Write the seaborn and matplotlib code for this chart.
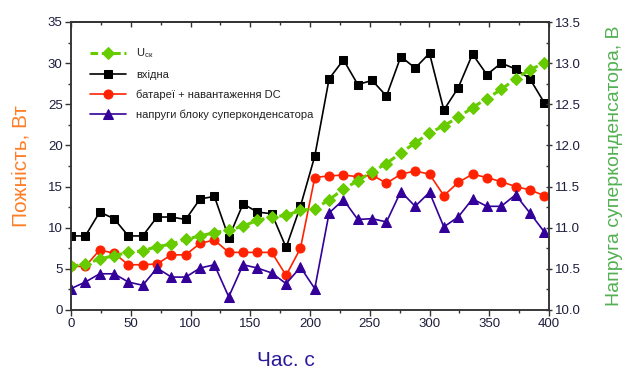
import matplotlib
matplotlib.use("Agg")
import matplotlib.pyplot as plt
from matplotlib.ticker import MultipleLocator, NullFormatter, FormatStrFormatter
import seaborn as sns
import pandas as pd

# Time stamps, s
time_s = [0, 12, 24, 36, 48, 60, 72, 84, 96, 108, 120, 132, 144, 156, 168, 180, 192,
          204, 216, 228, 240, 252, 264, 276, 288, 300, 312, 324, 336, 348, 360, 372, 384, 396]

# Power, W
p_input = [9.0, 9.0, 11.9, 11.1, 9.0, 9.0, 11.3, 11.3, 11.0, 13.5, 13.8, 8.8, 12.9, 11.9, 11.7, 7.6, 12.6,
           18.7, 28.1, 30.4, 27.4, 27.9, 26.0, 30.8, 29.4, 31.2, 24.3, 27.0, 31.1, 28.6, 30.0, 29.3, 28.1, 25.2]
p_battery_dc = [5.3, 5.3, 7.3, 6.9, 5.5, 5.5, 5.6, 6.7, 6.7, 8.1, 8.5, 7.0, 7.0, 7.0, 7.0, 4.2, 7.5,
                16.1, 16.3, 16.4, 16.2, 16.4, 15.4, 16.5, 16.9, 16.5, 13.9, 15.5, 16.5, 16.1, 15.6, 15.0, 14.6, 13.9]
p_supercap = [2.6, 3.4, 4.4, 4.4, 3.4, 3.0, 5.1, 4.0, 4.0, 5.1, 5.5, 1.6, 5.5, 5.1, 4.5, 3.2, 5.2,
              2.6, 11.8, 13.4, 11.0, 11.1, 10.7, 14.4, 12.6, 14.3, 10.1, 11.3, 13.5, 12.6, 12.6, 14.0, 11.8, 9.5]

# Supercapacitor voltage, V
u_sc = [10.53, 10.56, 10.62, 10.66, 10.70, 10.72, 10.77, 10.80, 10.86, 10.90, 10.94, 10.97, 11.02, 11.09, 11.13, 11.15, 11.21,
        11.23, 11.34, 11.47, 11.57, 11.68, 11.78, 11.91, 12.03, 12.15, 12.24, 12.34, 12.46, 12.57, 12.68, 12.81, 12.92, 13.00]

labels = ["вхідна", "батареї + навантаження DC", "напруги блоку суперконденсатора"]
u_label = r"U$\mathregular{_{ск}}$"

sns.set_style("ticks")
plt.rcParams["font.family"] = ["Liberation Sans", "DejaVu Sans"]
plt.rcParams["mathtext.fontset"] = "custom"
plt.rcParams["mathtext.rm"] = "Liberation Sans"

df = pd.DataFrame({"t": time_s, "input": p_input, "bat": p_battery_dc, "sc": p_supercap, "u": u_sc})

fig = plt.figure(figsize=(6.26, 3.69), dpi=100)
ax = fig.add_axes([71 / 626, 1 - 310 / 369, 478 / 626, 288 / 369])
ax2 = ax.twinx()

c_black, c_red, c_blue, c_green = "#000000", "#ff2200", "#330099", "#66cc00"

sns.lineplot(data=df, x="t", y="input", ax=ax, color=c_black, marker="s", markersize=6,
             markeredgecolor=c_black, linewidth=1.2, label=labels[0], legend=False)
sns.lineplot(data=df, x="t", y="bat", ax=ax, color=c_red, marker="o", markersize=6.5,
             markeredgecolor=c_red, linewidth=1.2, label=labels[1], legend=False)
sns.lineplot(data=df, x="t", y="sc", ax=ax, color=c_blue, marker="^", markersize=7,
             markeredgecolor=c_blue, linewidth=1.2, label=labels[2], legend=False)
sns.lineplot(data=df, x="t", y="u", ax=ax2, color=c_green, marker="D", markersize=6.5,
             markeredgecolor=c_green, linewidth=2.2, linestyle=(0, (2.5, 1.2)), label=u_label, legend=False)

ax.set_xlim(0, 400)
ax.set_ylim(0, 35)
ax2.set_ylim(10.0, 13.5)

ax.xaxis.set_major_locator(MultipleLocator(50))
ax.xaxis.set_minor_locator(MultipleLocator(25))
ax.yaxis.set_major_locator(MultipleLocator(5))
ax.yaxis.set_minor_locator(MultipleLocator(2.5))
ax2.yaxis.set_major_locator(MultipleLocator(0.5))
ax2.yaxis.set_minor_locator(MultipleLocator(0.25))
ax2.yaxis.set_major_formatter(FormatStrFormatter("%.1f"))

tick_color = "#1c1c3c"
spine_color = "#333333"
for a in (ax, ax2):
    for s in a.spines.values():
        s.set_visible(True)
        s.set_color(spine_color)
        s.set_linewidth(1.1)

ax.tick_params(axis="both", which="major", labelsize=9.5, labelcolor=tick_color, color=spine_color,
               length=4, width=1, direction="out", top=False, pad=2)
ax.tick_params(axis="both", which="minor", color=spine_color, length=2.5, width=1, direction="out", top=False)
ax2.tick_params(axis="y", which="major", labelsize=9.5, labelcolor=tick_color, color=spine_color,
                length=5, width=1, direction="inout", pad=2)
ax2.tick_params(axis="y", which="minor", color=spine_color, length=2.5, width=1, direction="in")

# Top axis: inward ticks without labels
top = ax.secondary_xaxis("top")
top.xaxis.set_major_locator(MultipleLocator(50))
top.xaxis.set_minor_locator(MultipleLocator(25))
top.xaxis.set_major_formatter(NullFormatter())
top.tick_params(which="major", direction="in", length=3.5, width=1, color=spine_color)
top.tick_params(which="minor", direction="in", length=2.5, width=1, color=spine_color)
top.spines["top"].set_color(spine_color)
top.spines["top"].set_linewidth(1.1)

ax.set_xlabel("Час. с", fontsize=15, color="#2a1a9a")
ax.set_ylabel("Пожність, Вт", fontsize=15, color="#ff7f27")
ax2.set_ylabel("Напруга суперконденсатора, В", fontsize=14, color="#52b052")
ax.xaxis.set_label_coords(0.45, -0.143)
ax.yaxis.set_label_coords(-0.084, 0.5)
ax2.yaxis.set_label_coords(1.12, 0.5)

h1, l1 = ax.get_legend_handles_labels()
h2, l2 = ax2.get_legend_handles_labels()
leg = ax2.legend(h2 + h1, l2 + l1, loc="upper left", bbox_to_anchor=(0.03, 0.93), frameon=False,
                 fontsize=8, handlelength=3.3, labelspacing=0.85, handletextpad=0.9, borderaxespad=0)
for t in leg.get_texts():
    t.set_color("#222222")

fig.savefig("out.png", dpi=100)
